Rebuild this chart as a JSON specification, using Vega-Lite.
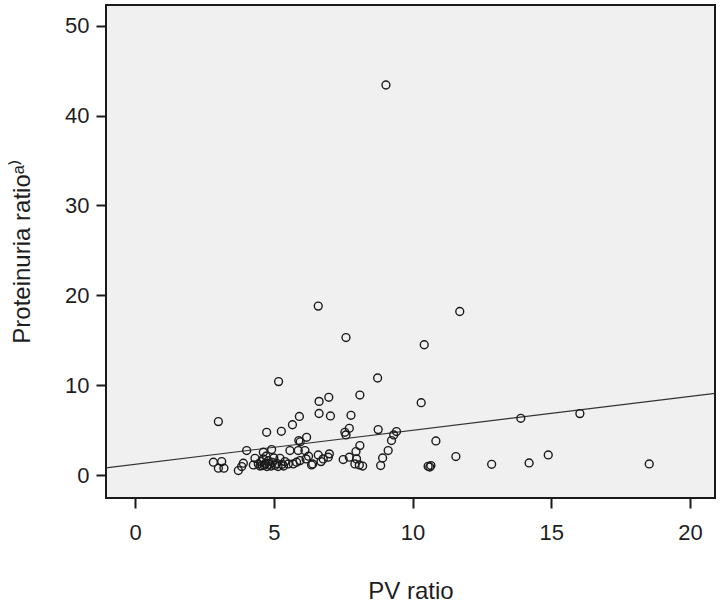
{
  "$schema": "https://vega.github.io/schema/vega-lite/v6.json",
  "width": 609,
  "height": 493,
  "autosize": {"type": "none"},
  "padding": {"left": 106, "top": 5, "right": 5, "bottom": 111},
  "background": "white",
  "config": {
    "view": {"fill": "#f0f0f0", "stroke": "#1a1a1a", "strokeWidth": 2},
    "font": "Liberation Sans",
    "axis": {
      "grid": false,
      "domain": false,
      "tickColor": "#1a1a1a",
      "tickWidth": 2,
      "tickSize": 10,
      "labelFont": "Liberation Sans",
      "labelFontSize": 22,
      "labelColor": "#1e1e1e",
      "titleFont": "Liberation Sans",
      "titleFontSize": 24,
      "titleFontWeight": "normal",
      "titleColor": "#1e1e1e"
    }
  },
  "datasets": {
    "pts": [
      {"pv": 9.04, "pr": 43.4},
      {"pv": 6.60, "pr": 18.8},
      {"pv": 11.70, "pr": 18.2},
      {"pv": 7.60, "pr": 15.3},
      {"pv": 10.42, "pr": 14.5},
      {"pv": 5.17, "pr": 10.4},
      {"pv": 8.74, "pr": 10.8},
      {"pv": 6.63, "pr": 8.2},
      {"pv": 6.98, "pr": 8.65},
      {"pv": 8.10, "pr": 8.9},
      {"pv": 10.31, "pr": 8.05},
      {"pv": 3.0, "pr": 5.95},
      {"pv": 4.74, "pr": 4.76},
      {"pv": 5.27, "pr": 4.87},
      {"pv": 5.67, "pr": 5.6},
      {"pv": 5.92, "pr": 6.52},
      {"pv": 6.63, "pr": 6.85},
      {"pv": 7.04, "pr": 6.58},
      {"pv": 7.78, "pr": 6.65},
      {"pv": 7.72, "pr": 5.2},
      {"pv": 7.56, "pr": 4.76},
      {"pv": 7.6, "pr": 4.47},
      {"pv": 8.76, "pr": 5.06},
      {"pv": 9.42, "pr": 4.84},
      {"pv": 9.32, "pr": 4.47},
      {"pv": 9.24, "pr": 3.84},
      {"pv": 9.12, "pr": 2.73},
      {"pv": 8.92, "pr": 1.9},
      {"pv": 8.85, "pr": 1.06},
      {"pv": 8.1, "pr": 3.28},
      {"pv": 7.96, "pr": 2.62},
      {"pv": 7.98, "pr": 1.8},
      {"pv": 8.08, "pr": 1.13},
      {"pv": 7.92, "pr": 1.24},
      {"pv": 7.5, "pr": 1.73},
      {"pv": 7.72, "pr": 1.99},
      {"pv": 7.0, "pr": 2.36},
      {"pv": 6.96, "pr": 1.99},
      {"pv": 6.78, "pr": 1.8},
      {"pv": 6.6, "pr": 2.24},
      {"pv": 6.36, "pr": 1.13},
      {"pv": 10.56, "pr": 0.98},
      {"pv": 10.66, "pr": 1.06},
      {"pv": 10.62, "pr": 0.9},
      {"pv": 10.84, "pr": 3.8},
      {"pv": 11.56, "pr": 2.06},
      {"pv": 13.9, "pr": 6.32},
      {"pv": 16.03, "pr": 6.84},
      {"pv": 12.85, "pr": 1.2},
      {"pv": 14.2, "pr": 1.35},
      {"pv": 14.89, "pr": 2.24},
      {"pv": 18.53, "pr": 1.24},
      {"pv": 5.9, "pr": 3.84},
      {"pv": 5.95, "pr": 3.7},
      {"pv": 6.18, "pr": 4.2},
      {"pv": 4.02, "pr": 2.73},
      {"pv": 4.62, "pr": 2.54},
      {"pv": 4.92, "pr": 2.84},
      {"pv": 5.58, "pr": 2.73},
      {"pv": 5.88, "pr": 2.73},
      {"pv": 6.12, "pr": 2.73},
      {"pv": 2.82, "pr": 1.43},
      {"pv": 3.12, "pr": 1.5},
      {"pv": 3.0, "pr": 0.77},
      {"pv": 3.2, "pr": 0.77},
      {"pv": 3.72, "pr": 0.5},
      {"pv": 3.84, "pr": 0.95},
      {"pv": 3.9, "pr": 1.32},
      {"pv": 4.26, "pr": 1.13},
      {"pv": 4.32, "pr": 1.87},
      {"pv": 4.44, "pr": 1.24},
      {"pv": 4.5, "pr": 1.0},
      {"pv": 4.55, "pr": 1.5},
      {"pv": 4.62, "pr": 1.8},
      {"pv": 4.65, "pr": 1.1},
      {"pv": 4.7, "pr": 1.3},
      {"pv": 4.75, "pr": 0.95},
      {"pv": 4.8, "pr": 1.6},
      {"pv": 4.85, "pr": 1.2},
      {"pv": 4.9, "pr": 1.0},
      {"pv": 4.95, "pr": 1.4},
      {"pv": 5.0, "pr": 1.9},
      {"pv": 5.05, "pr": 1.1},
      {"pv": 5.1, "pr": 1.3},
      {"pv": 5.15, "pr": 0.95},
      {"pv": 5.22, "pr": 1.87},
      {"pv": 5.3, "pr": 1.2},
      {"pv": 5.4, "pr": 1.5},
      {"pv": 5.52, "pr": 1.24},
      {"pv": 5.7, "pr": 1.24},
      {"pv": 5.82, "pr": 1.43},
      {"pv": 5.94, "pr": 1.61},
      {"pv": 6.16, "pr": 1.8},
      {"pv": 6.4, "pr": 1.24},
      {"pv": 6.25, "pr": 2.1},
      {"pv": 4.58, "pr": 1.05},
      {"pv": 4.72, "pr": 2.1},
      {"pv": 5.35, "pr": 1.0},
      {"pv": 6.7, "pr": 1.5},
      {"pv": 8.2, "pr": 1.0}
    ],
    "fit": [
      {"pv": -1.05, "pr": 0.8},
      {"pv": 20.9, "pr": 9.1}
    ]
  },
  "layer": [
    {
      "data": {"name": "fit"},
      "mark": {"type": "line", "stroke": "#333333", "strokeWidth": 1.2, "clip": true},
      "encoding": {
        "x": {"field": "pv", "type": "quantitative"},
        "y": {"field": "pr", "type": "quantitative"}
      }
    },
    {
      "data": {"name": "pts"},
      "mark": {"type": "point", "shape": "circle", "filled": false, "stroke": "#1a1a1a", "strokeWidth": 1.4, "size": 62, "opacity": 1, "clip": true},
      "encoding": {
        "x": {
          "field": "pv", "type": "quantitative",
          "scale": {"domain": [-1.05, 20.9], "nice": false, "zero": false},
          "axis": {"values": [0, 5, 10, 15, 20], "title": "PV ratio", "labelPadding": 14, "titlePadding": 36}
        },
        "y": {
          "field": "pr", "type": "quantitative",
          "scale": {"domain": [-2.55, 52.3], "nice": false, "zero": false},
          "axis": {"values": [0, 10, 20, 30, 40, 50], "title": "Proteinuria ratioᵃ⁾", "labelPadding": 7, "titlePadding": 30}
        }
      }
    }
  ]
}
